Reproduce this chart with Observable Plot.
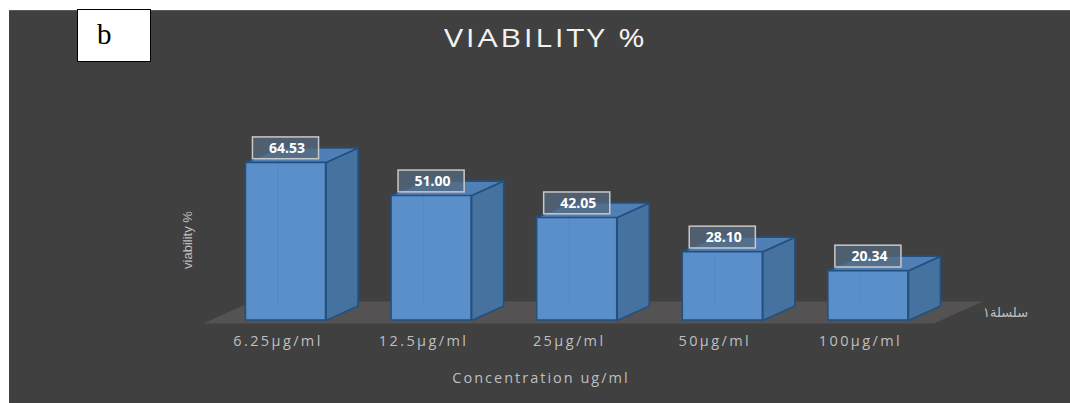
<!DOCTYPE html>
<html>
<head>
<meta charset="utf-8">
<script src="https://cdn.jsdelivr.net/npm/d3@7"></script>
<script src="https://cdn.jsdelivr.net/npm/@observablehq/plot@0.6"></script>
<style>
  html, body { margin: 0; background: #404040; overflow: hidden; }
  #wrap { position: relative; width: 1070px; height: 403px; overflow: hidden; background: #404040; }
  #wtop { position: absolute; left: 0; top: 0; width: 1070px; height: 10px; background: #fff; }
  #wleft { position: absolute; left: 0; top: 0; width: 9px; height: 403px; background: #fff; }
  #edge { position: absolute; left: 9px; top: 10px; width: 1061px; height: 1px; background: #5a5a5a; }
  #chart { position: absolute; left: 0; top: 0; }
  .lbl { position: absolute; white-space: nowrap; font-family: "Open Sans", sans-serif; }
  #title { left: 444px; top: 19px; font-size: 26px; color: #f2f2f2; letter-spacing: 2.2px; transform: scaleX(1.23); transform-origin: left center; }
  #bbox { left: 77px; top: 9px; width: 72px; height: 51px; background: #fff; border: 1px solid #000; }
  #bbox span { position: absolute; left: 19px; top: 8px; font-family: "Liberation Serif", serif; font-size: 29px; color: #000; }
  #ylab { left: 187px; top: 240px; transform: translate(-50%, -50%) rotate(-90deg); font-family: "Liberation Sans Narrow", "Liberation Sans", sans-serif; font-size: 13px; color: #bfbfbf; }
  #xlab { left: 0; width: 1082px; top: 368px; text-align: center; font-size: 14.5px; color: #bfbfbf; letter-spacing: 2px; }
  #slab { left: 983px; top: 305px; font-family: "DejaVu Sans", sans-serif; font-size: 13px; color: #bfbfbf; }
  [aria-label^="x-axis"] text { letter-spacing: 2.4px; }
  [aria-label="value labels"] text { letter-spacing: 2.6px; }
</style>
</head>
<body>
<div id="wrap">
  <div id="wtop"></div>
  <div id="wleft"></div>
  <div id="edge"></div>
  <div id="chart"></div>
  <div class="lbl" id="title">VIABILITY %</div>
  <div class="lbl" id="bbox"><span>b</span></div>
  <div class="lbl" id="ylab">viability %</div>
  <div class="lbl" id="xlab">Concentration ug/ml</div>
  <div class="lbl" id="slab" dir="rtl">سلسلة١</div>
</div>
<script>
// ---- data ----
const categories = ["6.25µg/ml", "12.5µg/ml", "25µg/ml", "50µg/ml", "100µg/ml"];
const viability = [64.53, 51.00, 42.05, 28.10, 20.34];
const seriesName = "سلسلة١";

// ---- 3D look (sizes in scale units) ----
const W = 0.275;   // half bar width (x units)
const D = 0.22;    // depth offset in x units
const E = 5.9;     // depth offset in y units
const FD = 0.337, FE = 9.0; // floor depth
const floorX0 = -0.57, floorX1 = 4.45, floorY = -1.2245;

const bars = categories.map((c, i) => ({ i, c, v: viability[i] }));

const sides = bars.flatMap(b => [
  [b.i + W, 0], [b.i + W + D, E], [b.i + W + D, b.v + E], [b.i + W, b.v]
].map(([x, y]) => ({ x, y, id: b.i })));

const tops = bars.flatMap(b => [
  [b.i - W, b.v], [b.i + W, b.v], [b.i + W + D, b.v + E], [b.i - W + D, b.v + E]
].map(([x, y]) => ({ x, y, id: b.i })));

const floor = [
  [floorX0, floorY], [floorX1, floorY], [floorX1 + FD, floorY + FE], [floorX0 + FD, floorY + FE]
].map(([x, y]) => ({ x, y }));

const plot = Plot.plot({
  width: 1070,
  height: 403,
  marginLeft: 139.9,
  marginRight: 56.5,
  marginTop: 124,
  marginBottom: 80,
  style: { background: "transparent", color: "#bfbfbf", fontFamily: "'Open Sans', sans-serif", fontSize: "14.5px", overflow: "visible" },
  x: { type: "linear", domain: [-1, 5], ticks: d3.range(categories.length), tickFormat: i => categories[i], tickSize: 0, tickPadding: 12, label: null },
  y: { domain: [floorY, 80], axis: null },
  marks: [
    Plot.line(floor, { x: "x", y: "y", curve: "linear-closed", fill: "#545252", stroke: "none" }),
    Plot.rect(bars, { x1: d => d.i - W, x2: d => d.i + W, y1: 0, y2: "v", fill: "#5b8fca", stroke: "#23507f", strokeWidth: 1.6 }),
    Plot.ruleX(bars, { x: d => d.i - W + D, y1: E, y2: d => d.v, stroke: "#5389c4", strokeWidth: 1 }),
    Plot.line(sides, { x: "x", y: "y", z: "id", curve: "linear-closed", fill: "#46729f", stroke: "#23507f", strokeWidth: 1.6 }),
    Plot.line(tops, { x: "x", y: "y", z: "id", curve: "linear-closed", fill: "#4f7fb4", stroke: "#23507f", strokeWidth: 1.6 }),
    Plot.rect(bars, { x1: d => d.i - 0.227, x2: d => d.i + 0.227, y1: d => d.v + 1.3, y2: d => d.v + 10.2, fill: "#56697f", fillOpacity: 0.75, stroke: "#c8c8c8", strokeWidth: 1.5 }),
    Plot.text(bars, { x: "i", y: d => d.v + 5.75, text: d => d.v.toFixed(2), fill: "#ffffff", fontWeight: "bold", fontSize: 14, dx: 1, ariaLabel: "value labels" })
  ]
});
d3.select(plot).selectAll('[aria-label^="x-axis"] text').attr("dx", -8);
document.getElementById("chart").appendChild(plot);
</script>
</body>
</html>
